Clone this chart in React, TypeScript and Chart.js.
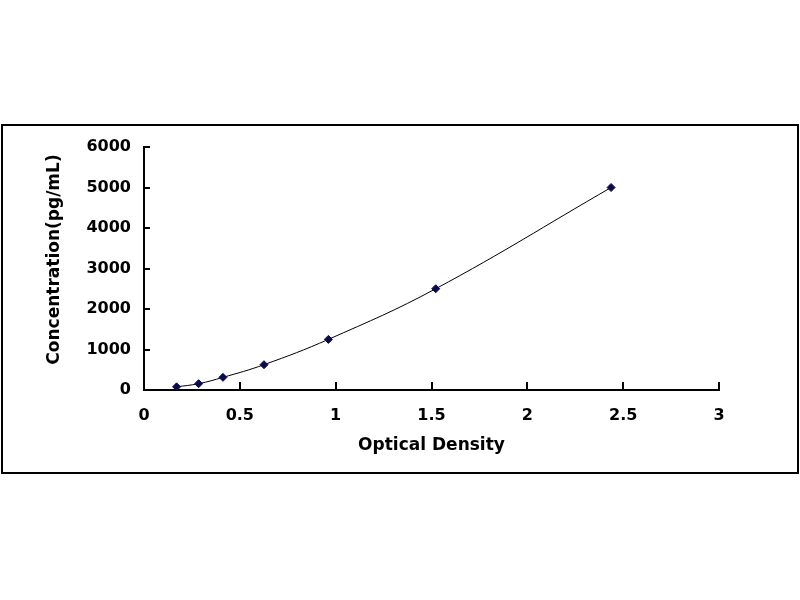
import React, { useEffect, useRef } from "react";
import { Chart, registerables } from "chart.js";

Chart.register(...registerables);

const opticalDensity = [0.17, 0.285, 0.412, 0.626, 0.962, 1.522, 2.437];
const concentration = [78, 156, 312, 625, 1250, 2500, 5000];
const xTicks = [0, 0.5, 1, 1.5, 2, 2.5, 3];
const yTicks = [0, 1000, 2000, 3000, 4000, 5000, 6000];
const xTitle = "Optical Density";
const yTitle = "Concentration(pg/mL)";

const FONT = "'DejaVu Sans', sans-serif";

const inwardTicks = {
  id: "inwardTicks",
  afterDraw(chart: any) {
    const ctx = chart.ctx;
    const xs = chart.scales.x;
    const ys = chart.scales.y;
    const area = chart.chartArea;
    ctx.save();
    ctx.strokeStyle = "#000";
    ctx.lineWidth = 2;
    ctx.beginPath();
    xTicks.forEach((v) => {
      const px = Math.round(xs.getPixelForValue(v));
      if (v === 0) return;
      ctx.moveTo(px, area.bottom);
      ctx.lineTo(px, area.bottom - 8);
    });
    yTicks.forEach((v) => {
      const py = Math.round(ys.getPixelForValue(v));
      if (v === 0) return;
      ctx.moveTo(area.left, py);
      ctx.lineTo(area.left + 6, py);
    });
    ctx.stroke();

    // y-axis title, placed slightly above the plot's vertical centre as in the reference
    ctx.translate(ys.left + 11, (area.top + area.bottom) / 2 - 9);
    ctx.rotate(-Math.PI / 2);
    ctx.fillStyle = "#000";
    ctx.font = `bold 17px ${FONT}`;
    ctx.textAlign = "center";
    ctx.textBaseline = "middle";
    ctx.fillText(yTitle, 0, 0);
    ctx.restore();
  },
};

export default function App() {
  const ref = useRef<HTMLCanvasElement | null>(null);

  useEffect(() => {
    if (!ref.current) return;
    const chart = new Chart(ref.current, {
      type: "line",
      data: {
        datasets: [
          {
            data: opticalDensity.map((x, i) => ({ x, y: concentration[i] })),
            borderColor: "#000000",
            borderWidth: 1,
            tension: 0.4,
            pointStyle: "rectRot",
            pointRadius: 4,
            pointBackgroundColor: "#0a0a50",
            pointBorderColor: "#0a0a50",
            pointBorderWidth: 1,
            fill: false,
          },
        ],
      },
      options: {
        animation: false,
        responsive: false,
        devicePixelRatio: 1,
        layout: { padding: { left: 44, right: 81, top: 147, bottom: 140 } },
        plugins: { legend: { display: false }, tooltip: { enabled: false } },
        scales: {
          x: {
            type: "linear",
            min: 0,
            max: 3,
            afterBuildTicks: (scale: any) => {
              scale.ticks = xTicks.map((value) => ({ value }));
            },
            afterFit: (scale: any) => {
              scale.height = 70;
            },
            grid: { display: false, drawTicks: false },
            border: { display: true, color: "#000", width: 2 },
            ticks: {
              padding: 16,
              color: "#000",
              font: { family: FONT, size: 16, weight: "bold" },
              maxRotation: 0,
              callback: (v: any) => String(v),
            },
            title: {
              display: true,
              text: xTitle,
              color: "#000",
              font: { family: FONT, size: 17, weight: "bold" },
              padding: { top: 0, bottom: 4 },
            },
          },
          y: {
            type: "linear",
            min: 0,
            max: 6000,
            afterBuildTicks: (scale: any) => {
              scale.ticks = yTicks.map((value) => ({ value }));
            },
            afterFit: (scale: any) => {
              scale.width = 100;
            },
            grid: { display: false, drawTicks: false },
            border: { display: true, color: "#000", width: 2 },
            ticks: {
              padding: 13,
              color: "#000",
              font: { family: FONT, size: 16, weight: "bold" },
              callback: (v: any) => String(v),
            },
            title: { display: false, text: yTitle },
          },
        },
      },
      plugins: [inwardTicks],
    });
    return () => chart.destroy();
  }, []);

  return (
    <div style={{ position: "fixed", left: 0, top: 0, width: 800, height: 600, background: "#fff" }}>
      <div
        style={{
          position: "absolute",
          left: 1,
          top: 124,
          width: 794,
          height: 346,
          border: "2px solid #000",
        }}
      />
      <canvas ref={ref} width={800} height={600} style={{ position: "absolute", left: 0, top: 0 }} />
    </div>
  );
}
